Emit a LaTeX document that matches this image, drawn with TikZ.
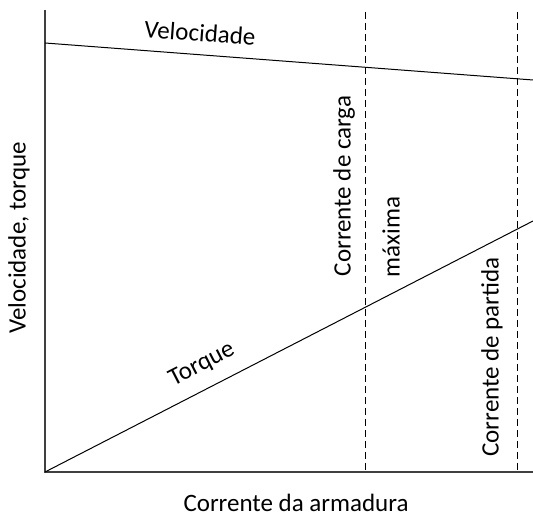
\documentclass[tikz,border=0pt]{standalone}
\usepackage{fontspec}
\setmainfont{Carlito}

\begin{document}
\begin{tikzpicture}[x = 1pt, y = 1pt]
	\tikzstyle{axisStyle} = [line width = 1.2pt, black!75]
	\tikzstyle{curveStyle} = [line width = 1pt]
	\tikzstyle{limitStyle} = [line width = 0.8pt, dash pattern = on 7pt off 4pt]
	\tikzstyle{labelStyle} = [inner sep = 0pt, font = \fontsize{25}{30}\selectfont]
	\useasboundingbox (0,0) rectangle (533,516);
	\coordinate (o) at (45,44);
	\coordinate (yTop) at (45,506);
	\coordinate (xEnd) at (533,44);
	\coordinate (velStart) at (45,473);
	\coordinate (velEnd) at (533,436);
	\coordinate (torEnd) at (533,295);
	\coordinate (loadTop) at (365,504);
	\coordinate (loadBot) at (365,44);
	\coordinate (startTop) at (517,504);
	\coordinate (startBot) at (517,44);
	\draw[axisStyle] (yTop) -- (o) -- (xEnd);
	\draw[limitStyle] (loadTop) -- (loadBot);
	\draw[limitStyle] (startTop) -- (startBot);
	\draw[curveStyle] (velStart) -- (velEnd);
	\draw[curveStyle] (o) -- (torEnd);
	\node[labelStyle, rotate = -4.3] (velLabel) at (200,483) {Velocidade};
	\node[labelStyle, rotate = 27.2] (torLabel) at (202,151) {Torque};
	\node[labelStyle, rotate = 90] (loadLabel) at (344,330) {Corrente de carga};
	\node[labelStyle, rotate = 90] (maxLabel) at (391,279) {máxima};
	\node[labelStyle, rotate = 90] (startLabel) at (492,159) {Corrente de partida};
	\node[labelStyle, rotate = 90] (yLabel) at (19,278) {Velocidade, torque};
	\node[labelStyle] (xLabel) at (296,13) {Corrente da armadura};
\end{tikzpicture}
\end{document}
